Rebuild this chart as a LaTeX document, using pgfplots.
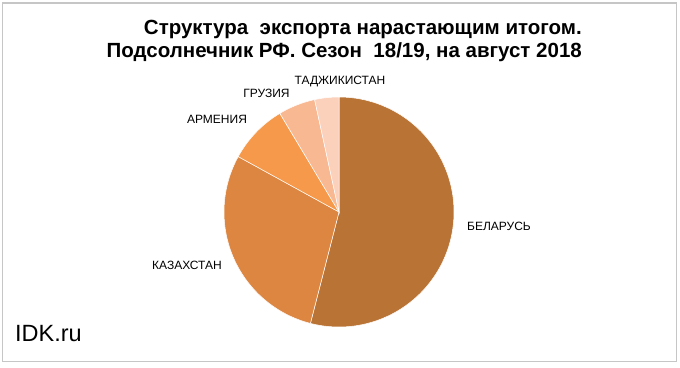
\documentclass[border=0pt]{standalone}
\usepackage{pgfplots}
\pgfplotsset{compat=1.18}
\usepackage{fontspec}
\setmainfont{Liberation Sans}
\definecolor{cBel}{RGB}{185,115,52}
\definecolor{cKaz}{RGB}{221,134,66}
\definecolor{cArm}{RGB}{247,153,74}
\definecolor{cGeo}{RGB}{248,184,146}
\definecolor{cTaj}{RGB}{251,209,188}
\begin{document}
\begin{tikzpicture}
\begin{axis}[x=1bp,y=1bp,xmin=0,xmax=680,ymin=0,ymax=367,hide axis,clip=false,
  anchor=origin,at={(0,0)}]
\fill[white] (0,0) rectangle (680,367);
\draw[gray!45, line width=1.2bp] (2.5,364) rectangle (676.5,5.5);
\def\cx{339}\def\cy{155}\def\r{115}
\xdef\start{0}
\foreach \v/\col in {54.0/cBel,29.0/cKaz,8.4/cArm,5.2/cGeo,3.4/cTaj}{
  \pgfmathsetmacro\endang{\start+3.6*\v}
  \edef\temp{\noexpand\addplot[fill=\col, draw=white, line width=0.5bp, domain=\start:\endang, samples=90, variable=\noexpand\t]
    ({\cx+\r*sin(\noexpand\t)},{\cy+\r*cos(\noexpand\t)}) -- (\cx,\cy) -- cycle;}
  \temp
  \xdef\start{\endang}
}
\begin{scope}[font=\fontsize{12bp}{14bp}\selectfont]
\node at (340,285.3) {ТАДЖИКИСТАН};
\node at (266.5,273.7) {ГРУЗИЯ};
\node at (217,248) {АРМЕНИЯ};
\node at (499,140.3) {БЕЛАРУСЬ};
\node at (187,102) {КАЗАХСТАН};
\end{scope}
\node[anchor=base east, inner sep=0pt, font=\fontsize{20.5bp}{24bp}\selectfont\bfseries] at (582,332.5) {Структура \ экспорта нарастающим итогом.};
\node[anchor=base east, inner sep=0pt, font=\fontsize{20.5bp}{24bp}\selectfont\bfseries] at (582,309.5) {Подсолнечник РФ. Сезон \ 18/19, на август 2018};
\node[anchor=base west, inner sep=0pt, font=\fontsize{23.5bp}{26bp}\selectfont] at (15,25.5) {IDK.ru};
\end{axis}
\end{tikzpicture}
\end{document}
